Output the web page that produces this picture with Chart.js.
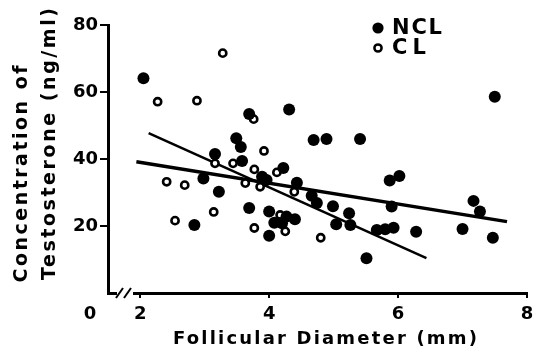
<!DOCTYPE html>
<html>
<head>
<meta charset="utf-8">
<script src="https://cdn.jsdelivr.net/npm/chart.js@4"></script>
<style>
  html, body { margin: 0; padding: 0; background: #fff; }
  #wrap { width: 544px; height: 353px; }
</style>
</head>
<body>
<div id="wrap"><canvas id="myChart" width="544" height="353"></canvas></div>
<script>
// values (diameter in mm, testosterone in ng/ml)
const nclDiameter = [2.05, 2.84, 2.98, 3.16, 3.22, 3.49, 3.56, 3.58, 3.69, 3.69, 3.89, 3.96, 4.00, 4.00, 4.08,
  4.20, 4.22, 4.27, 4.31, 4.40, 4.43, 4.66, 4.69, 4.74, 4.89, 4.99, 5.04, 5.24, 5.26, 5.41, 5.51, 5.67,
  5.80, 5.87, 5.90, 5.93, 6.02, 6.28, 7.00, 7.17, 7.27, 7.47, 7.50];
const nclTestosterone = [64.1, 20.3, 34.2, 41.5, 30.2, 46.2, 43.6, 39.4, 53.4, 25.4, 34.7, 33.7, 24.3, 17.1, 21.0,
  20.8, 37.3, 22.8, 54.8, 22.0, 32.9, 29.0, 45.7, 26.9, 46.0, 25.9, 20.5, 23.8, 20.3, 46.0, 10.4, 18.8,
  19.0, 33.6, 25.8, 19.5, 34.9, 18.3, 19.1, 27.5, 24.3, 16.5, 58.6];

const clDiameter = [2.27, 2.41, 2.54, 2.69, 2.88, 3.14, 3.16, 3.28, 3.44, 3.63, 3.76, 3.77, 3.77, 3.86, 3.92,
  4.12, 4.17, 4.25, 4.39, 4.80];
const clTestosterone = [57.1, 33.2, 21.6, 32.2, 57.4, 24.2, 38.7, 71.6, 38.7, 32.8, 51.9, 36.9, 19.4, 31.7, 42.4,
  36.0, 23.3, 18.4, 30.2, 16.5];

// regression lines (end points)
const shallowLineX = [1.94, 7.69];
const shallowLineY = [39.2, 21.3];
const steepLineX = [2.13, 6.44];
const steepLineY = [47.7, 10.4];

const xTicks = [2, 4, 6, 8];
const yTicks = [20, 40, 60, 80];

const toPoints = (xs, ys) => xs.map((x, i) => ({ x, y: ys[i] }));

const FONT = '"DejaVu Sans", sans-serif';

// draws text stretched to a target width with letter spacing
function spacedText(ctx, text, cx, cy, target) {
  ctx.letterSpacing = '0px';
  const w = ctx.measureText(text).width;
  const sp = (target - w) / (text.length - 1);
  ctx.letterSpacing = sp + 'px';
  ctx.textAlign = 'left';
  ctx.textBaseline = 'middle';
  ctx.fillText(text, cx - target / 2, cy);
  ctx.letterSpacing = '0px';
}

const decorations = {
  id: 'decorations',
  afterDraw(chart) {
    const { ctx } = chart;
    const ys = chart.scales.y;
    ctx.save();
    ctx.fillStyle = '#000';
    ctx.strokeStyle = '#000';

    // axis break near the origin
    const y0 = ys.getPixelForValue(0);
    ctx.fillStyle = '#fff';
    ctx.fillRect(117, y0 - 3, 16, 6);
    ctx.fillStyle = '#000';
    ctx.lineWidth = 2;
    [[116, 123], [124, 131]].forEach(([a, b]) => {
      ctx.beginPath();
      ctx.moveTo(a, y0 + 5);
      ctx.lineTo(b, y0 - 5);
      ctx.stroke();
    });

    // origin label
    ctx.font = `bold 18px ${FONT}`;
    ctx.textAlign = 'center';
    ctx.textBaseline = 'middle';
    ctx.fillText('0', 90, 314);

    // x title
    ctx.font = `bold 18px ${FONT}`;
    spacedText(ctx, 'Follicular Diameter (mm)', 325, 339, 304);

    // y title, two lines
    ctx.font = `bold 19px ${FONT}`;
    ctx.save();
    ctx.translate(22, 174);
    ctx.rotate(-Math.PI / 2);
    spacedText(ctx, 'Concentration of', 0, 0, 217);
    ctx.restore();
    ctx.save();
    ctx.translate(50, 144);
    ctx.rotate(-Math.PI / 2);
    spacedText(ctx, 'Testosterone (ng/ml)', 0, 0, 272);
    ctx.restore();

    // legend
    ctx.beginPath();
    ctx.arc(378, 28, 5.6, 0, Math.PI * 2);
    ctx.fill();
    ctx.beginPath();
    ctx.lineWidth = 2.5;
    ctx.arc(378, 48, 3.6, 0, Math.PI * 2);
    ctx.stroke();
    ctx.font = `bold 21px ${FONT}`;
    spacedText(ctx, 'NCL', 392 + 25, 29, 50);
    spacedText(ctx, 'CL', 392 + 17, 49, 34);

    ctx.restore();
  },
};

const ctx = document.getElementById('myChart').getContext('2d');
new Chart(ctx, {
  type: 'scatter',
  data: {
    datasets: [
      {
        label: 'NCL',
        data: toPoints(nclDiameter, nclTestosterone),
        pointStyle: 'circle',
        pointRadius: 6,
        backgroundColor: '#000',
        borderWidth: 0,
      },
      {
        label: 'CL',
        data: toPoints(clDiameter, clTestosterone),
        pointStyle: 'circle',
        pointRadius: 3.6,
        backgroundColor: '#fff',
        borderColor: '#000',
        borderWidth: 2.6,
      },
      {
        type: 'line',
        label: 'fit 1',
        data: toPoints(shallowLineX, shallowLineY),
        borderColor: '#000',
        borderWidth: 3.5,
        pointRadius: 0,
        showLine: true,
      },
      {
        type: 'line',
        label: 'fit 2',
        data: toPoints(steepLineX, steepLineY),
        borderColor: '#000',
        borderWidth: 2.5,
        pointRadius: 0,
        showLine: true,
      },
    ],
  },
  options: {
    responsive: false,
    animation: false,
    layout: { padding: { left: 0, top: 25, right: 17, bottom: 0 } },
    plugins: {
      legend: { display: false },
      tooltip: { enabled: false },
    },
    scales: {
      x: {
        type: 'linear',
        min: 1.5,
        max: 8,
        afterBuildTicks: (scale) => { scale.ticks = xTicks.map((v) => ({ value: v })); },
        afterFit: (scale) => { scale.height = 60; },
        grid: { drawOnChartArea: false, color: '#000', lineWidth: 2, tickLength: 5 },
        border: { color: '#000', width: 3 },
        ticks: { color: '#000', padding: 6, maxRotation: 0, font: { family: FONT, size: 18, weight: 'bold' } },
      },
      y: {
        min: 0,
        max: 80,
        afterBuildTicks: (scale) => { scale.ticks = yTicks.map((v) => ({ value: v })); },
        afterFit: (scale) => { scale.width = 108; },
        grid: { drawOnChartArea: false, color: '#000', lineWidth: 2, tickLength: 8 },
        border: { color: '#000', width: 3 },
        ticks: { color: '#000', padding: 2, font: { family: FONT, size: 18, weight: 'bold' } },
      },
    },
  },
  plugins: [decorations],
});
</script>
</body>
</html>
